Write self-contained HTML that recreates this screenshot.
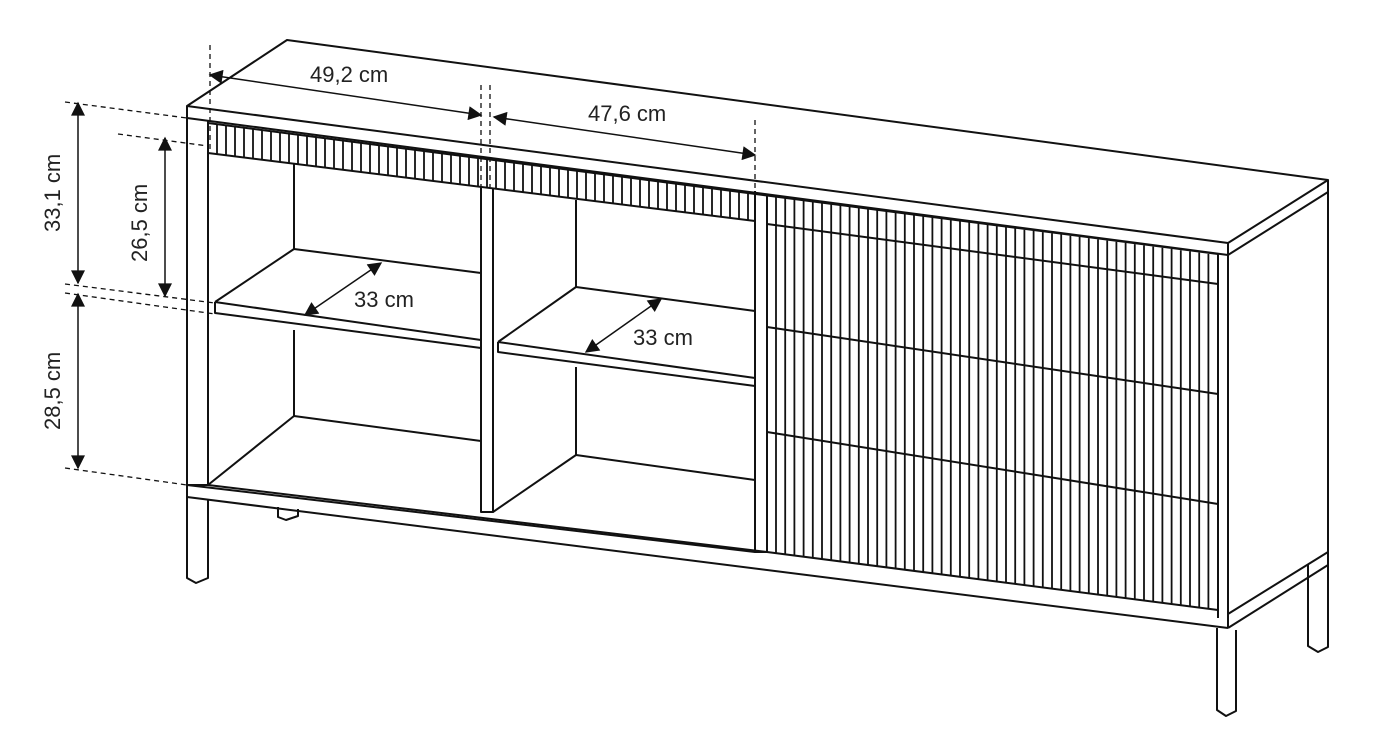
<!DOCTYPE html>
<html><head><meta charset="utf-8"><style>
html,body{margin:0;padding:0;background:#fff;}
svg{display:block;}
text{font-family:"Liberation Sans",sans-serif;font-size:22px;fill:#222;}
</style></head><body>
<svg id="s" width="1380" height="752" viewBox="0 0 1380 752" xmlns="http://www.w3.org/2000/svg">
<defs>
<marker id="a" viewBox="0 0 10 10" refX="9" refY="5" markerWidth="16" markerHeight="14" orient="auto-start-reverse" markerUnits="userSpaceOnUse"><path d="M0,0 L10,5 L0,10 z" fill="#111"/></marker>
</defs>
<g fill="none" stroke="#111" stroke-width="2" stroke-linejoin="round">
<path d="M187,106 L287,40 L1328,180 L1228,243 Z"/>
<path d="M187,106 L187,118 L1228,255 L1228,243"/>
<path d="M1228,255 L1328,192 L1328,180"/>
<path d="M1328,192 L1328,552 L1228,614"/>
<line x1="1228" y1="255" x2="1228" y2="628"/>
<line x1="1218" y1="254" x2="1218" y2="618"/>
<line x1="187" y1="118" x2="187" y2="497"/>
<line x1="208" y1="121" x2="208" y2="485"/>
<path d="M187,485 L755,552"/>
<path d="M208,485 L767,552 L1218,610"/>
<path d="M187,497 L1228,628"/>
<path d="M187,485 L208,485"/>
<path d="M1228,628 L1328,565"/>
<path d="M187,497 L187,578 L196,583 L208,578 L208,499"/>
<path d="M278,507 L278,517 L286,520 L298,516 L298,509"/>
<path d="M1217,628 L1217,710 L1226,716 L1236,711 L1236,630"/>
<path d="M1308,565 L1308,646 L1318,652 L1328,647 L1328,552"/>
<path d="M208,121 L208,153 L755,221 L755,191"/>
<line x1="208" y1="123" x2="1218" y2="254"/>
<path d="M481,187 L481,512 L493,512 L493,188"/>
<line x1="294" y1="163" x2="294" y2="249"/>
<line x1="294" y1="330" x2="294" y2="416"/>
<path d="M208,485 L294,416 L481,441"/>
<path d="M215,302 L294,249 L481,273"/>
<path d="M215,302 L215,313 L481,348"/>
<line x1="215" y1="302" x2="481" y2="340"/>
<line x1="576" y1="200" x2="576" y2="287"/>
<line x1="576" y1="367" x2="576" y2="455"/>
<path d="M493,512 L576,455 L755,480"/>
<path d="M498,342 L576,287 L755,311"/>
<path d="M498,342 L498,352 L755,386"/>
<line x1="498" y1="342" x2="755" y2="378"/>
<path d="M755,194 L755,552 L767,552 L767,196"/>
<line x1="767" y1="224" x2="1218" y2="284"/>
<line x1="767" y1="327" x2="1218" y2="394"/>
<line x1="767" y1="432" x2="1218" y2="504"/>
</g>
<g id="slats" stroke="#111" stroke-width="1.8"></g>
<g stroke="#111" stroke-width="1.3" stroke-dasharray="5,4" fill="none">
<line x1="210" y1="45" x2="210" y2="150"/>
<line x1="481" y1="85" x2="481" y2="187"/>
<line x1="490" y1="85" x2="490" y2="187"/>
<line x1="755" y1="120" x2="755" y2="221"/>
<line x1="65" y1="102" x2="187" y2="118"/>
<line x1="118" y1="134" x2="208" y2="146"/>
<line x1="65" y1="284" x2="215" y2="303"/>
<line x1="65" y1="293" x2="215" y2="314"/>
<line x1="65" y1="468" x2="187" y2="485"/>
</g>
<g stroke="#111" stroke-width="1.5" fill="none">
<line x1="210" y1="75" x2="481" y2="115" marker-start="url(#a)" marker-end="url(#a)"/>
<line x1="494" y1="117" x2="755" y2="155" marker-start="url(#a)" marker-end="url(#a)"/>
<line x1="78" y1="103" x2="78" y2="283" marker-start="url(#a)" marker-end="url(#a)"/>
<line x1="165" y1="138" x2="165" y2="296" marker-start="url(#a)" marker-end="url(#a)"/>
<line x1="78" y1="294" x2="78" y2="468" marker-start="url(#a)" marker-end="url(#a)"/>
<line x1="305" y1="315" x2="381" y2="263" marker-start="url(#a)" marker-end="url(#a)"/>
<line x1="586" y1="352" x2="661" y2="299" marker-start="url(#a)" marker-end="url(#a)"/>
</g>
<text x="310" y="82">49,2 cm</text>
<text x="588" y="121">47,6 cm</text>
<text x="354" y="307">33 cm</text>
<text x="633" y="345">33 cm</text>
<text transform="translate(60,232) rotate(-90)">33,1 cm</text>
<text transform="translate(147,262) rotate(-90)">26,5 cm</text>
<text transform="translate(60,430) rotate(-90)">28,5 cm</text>
<script>
var g=document.getElementById('slats'),ns='http://www.w3.org/2000/svg';
function L(x1,y1,x2,y2){var l=document.createElementNS(ns,'line');l.setAttribute('x1',x1);l.setAttribute('y1',y1);l.setAttribute('x2',x2);l.setAttribute('y2',y2);g.appendChild(l);}
for(var x=217;x<755;x+=9){var t=123+(x-208)*0.1297,b=153+(x-208)*0.124;L(x,t,x,b);}
for(var x=776;x<1216;x+=9.2){var t=196+(x-767)*0.131,b=552+(x-767)*0.1286;L(x,t,x,b);}
</script>
</svg>
</body></html>
